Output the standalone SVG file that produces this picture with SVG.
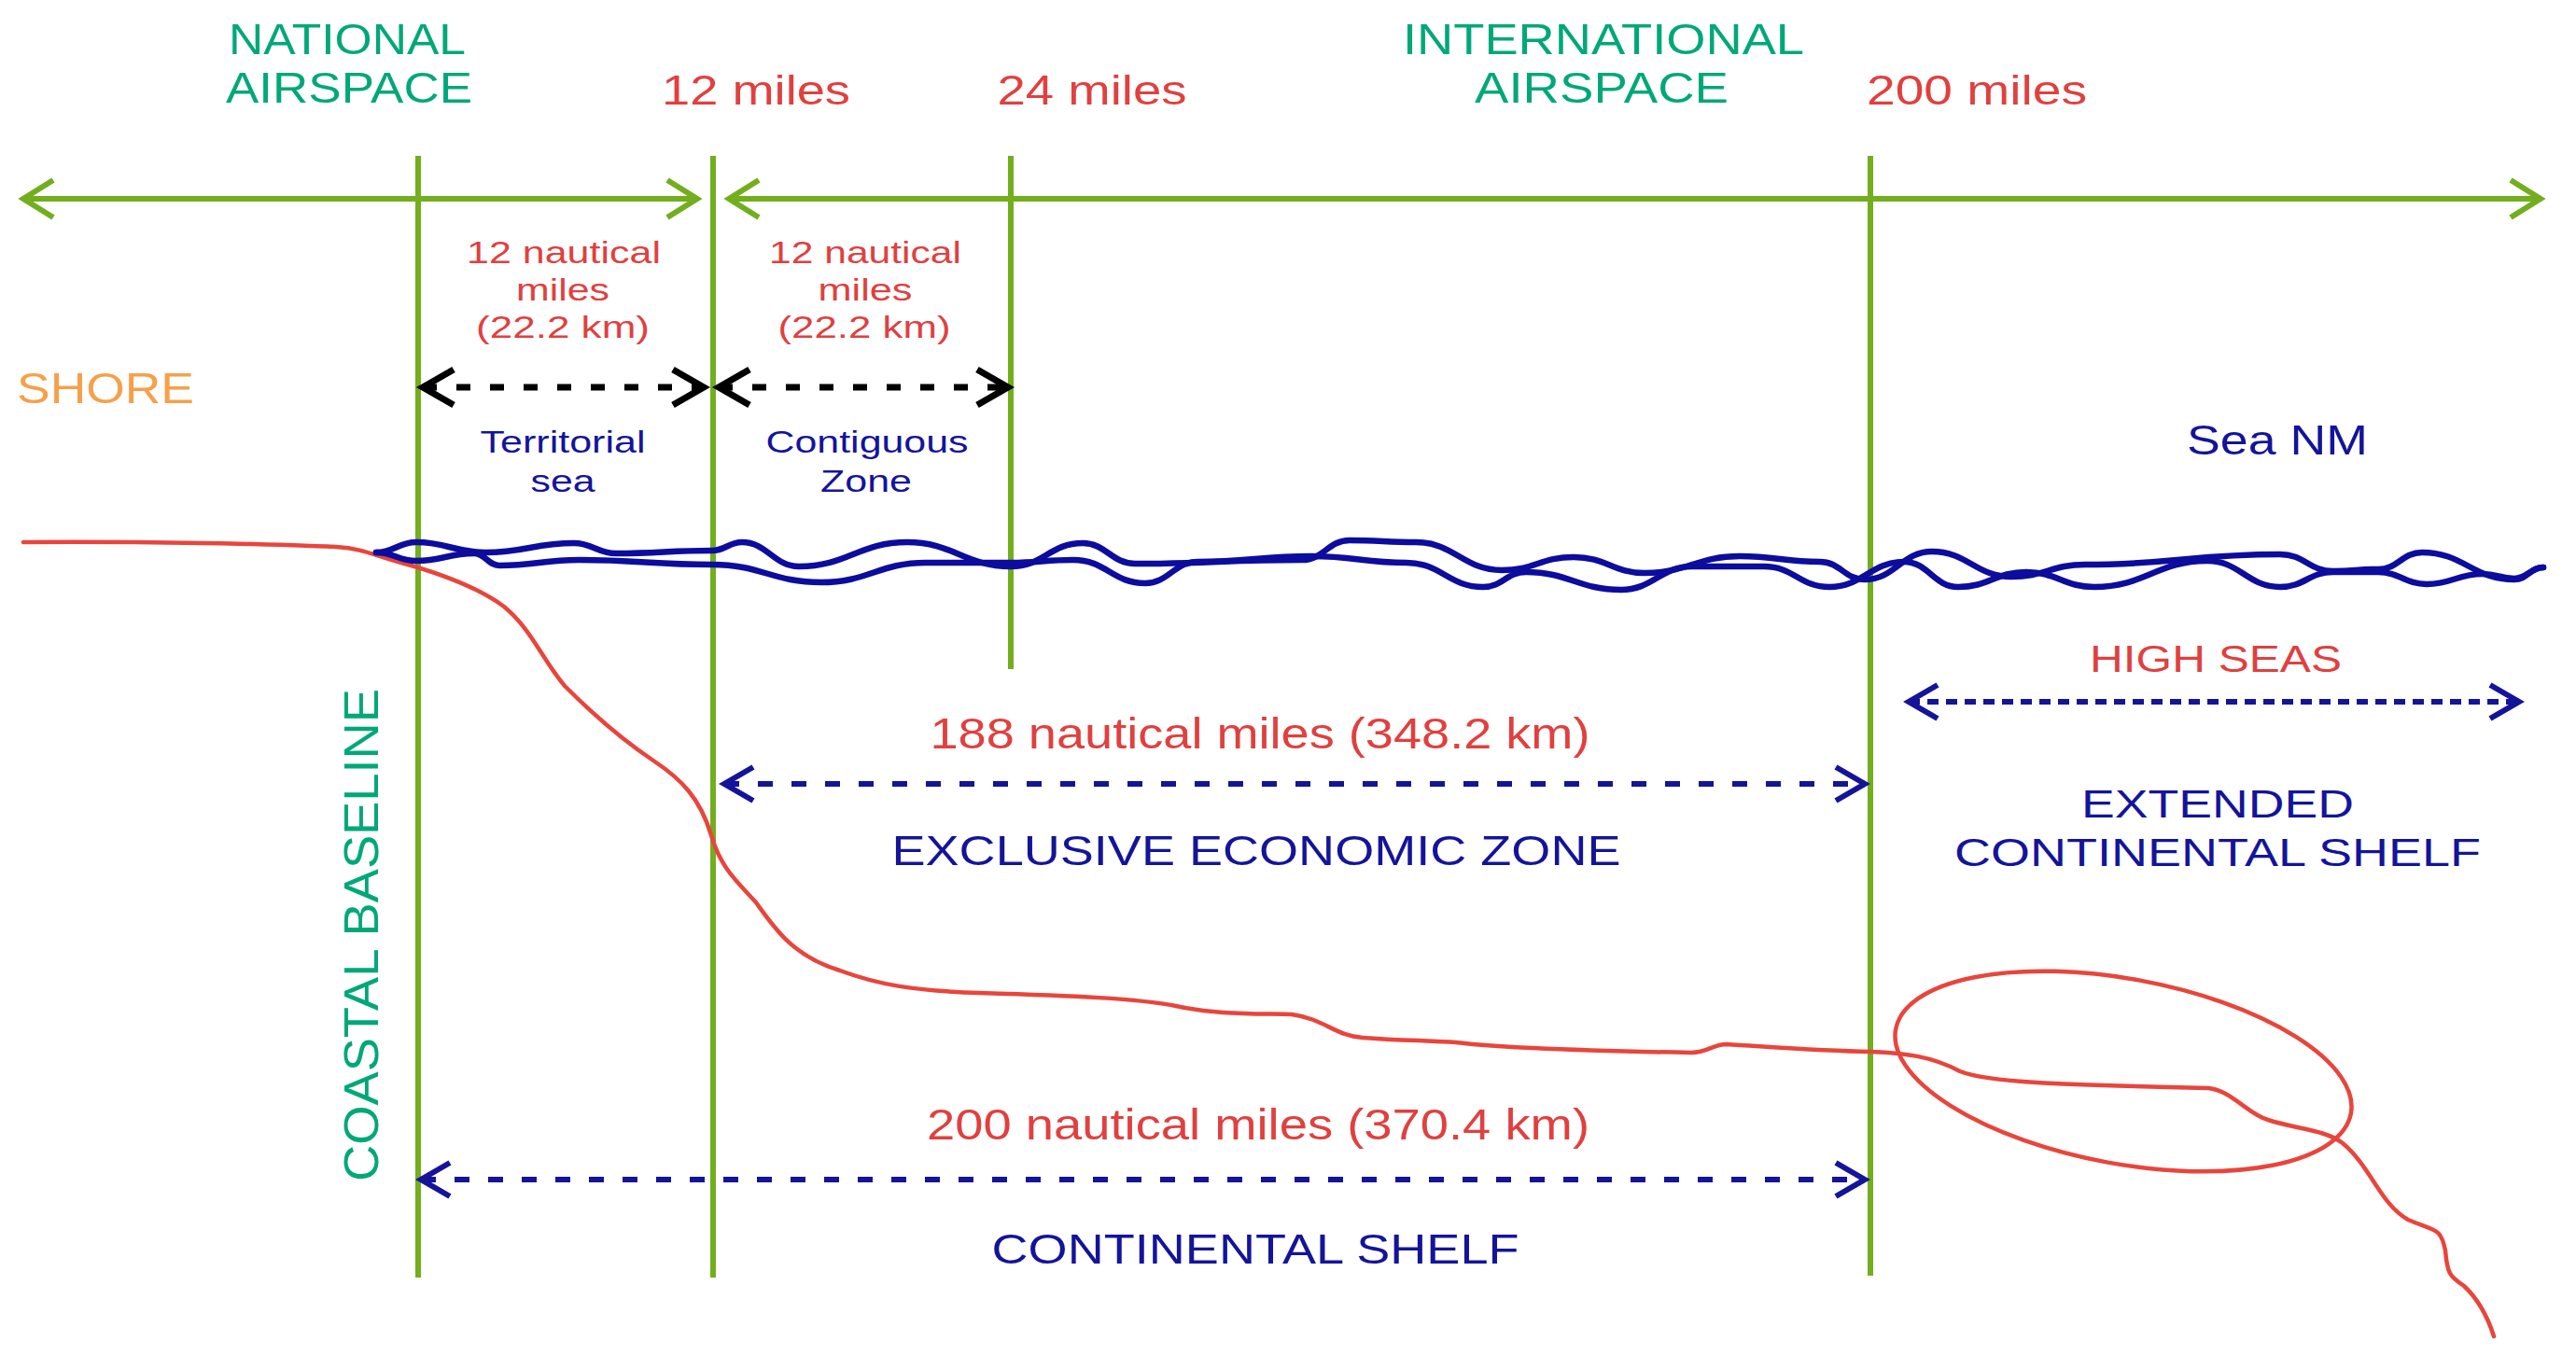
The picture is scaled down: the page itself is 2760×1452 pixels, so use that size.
<svg xmlns="http://www.w3.org/2000/svg" width="2760" height="1452" viewBox="0 0 2760 1452">
<style>
text{font-family:"Liberation Sans",Arial,sans-serif}
.g{fill:#00a878}
.r{fill:#e0403f}
.b{fill:#14149a}
.o{fill:#f6a04a}
.vl{stroke:#73ae1e;stroke-width:6;fill:none}
.ga{stroke:#73ae1e;stroke-width:6;fill:none}
.ka{stroke:#000;stroke-width:7;fill:none;stroke-dasharray:15 21}
.ba{stroke:#14149a;stroke-width:6;fill:none;stroke-dasharray:16 20}
.bs{stroke:#14149a;stroke-width:6;fill:none;stroke-dasharray:12 8}
.wave{stroke:#0c0c9e;stroke-width:6.5;fill:none;stroke-linecap:round;stroke-linejoin:round}
.red{stroke:#e8453c;stroke-width:4.5;fill:none;stroke-linecap:round;stroke-linejoin:round}
</style>
<defs>
<marker id="mG" markerUnits="userSpaceOnUse" viewBox="-40 -30 50 60" markerWidth="50" markerHeight="60" refX="0" refY="0" orient="auto-start-reverse" overflow="visible"><path d="M-32,-20 L0,0 L-32,20" fill="none" stroke="#73ae1e" stroke-width="6"/></marker>
<marker id="mK" markerUnits="userSpaceOnUse" viewBox="-40 -30 50 60" markerWidth="50" markerHeight="60" refX="0" refY="0" orient="auto-start-reverse" overflow="visible"><path d="M-33,-19 L0,0 L-33,19" fill="none" stroke="#000" stroke-width="7"/></marker>
<marker id="mB" markerUnits="userSpaceOnUse" viewBox="-40 -30 50 60" markerWidth="50" markerHeight="60" refX="0" refY="0" orient="auto-start-reverse" overflow="visible"><path d="M-31,-18 L0,0 L-31,18" fill="none" stroke="#14149a" stroke-width="6"/></marker>
</defs>
<rect width="2760" height="1452" fill="#fff"/>

<g id="boundaries">
<line class="vl" x1="448" y1="167" x2="448" y2="1369"/>
<line class="vl" x1="764" y1="167" x2="764" y2="1369"/>
<line class="vl" x1="1083" y1="167" x2="1083" y2="717"/>
<line class="vl" x1="2004" y1="167" x2="2004" y2="1367"/>
</g>

<g id="seabed">
<path class="red" d="M25,581 C150,580 300,583 360,586 C390,588 400,595 430,603 C470,614 510,628 540,650 C570,675 580,705 605,735 C640,770 670,795 700,815 C730,835 750,855 762,895 C772,930 790,945 810,967 C830,995 850,1025 900,1040 C940,1055 980,1062 1050,1064 C1150,1067 1220,1070 1260,1078 C1300,1087 1340,1086 1384,1087 C1420,1092 1430,1110 1460,1112 C1500,1115 1530,1115 1560,1117 C1600,1122 1700,1126 1812,1128 C1830,1128 1835,1119 1850,1119 C1900,1122 1950,1126 2004,1127 C2040,1128 2070,1132 2100,1148 C2130,1160 2200,1162 2366,1166 C2390,1168 2410,1195 2430,1200 C2460,1210 2490,1210 2510,1225 C2540,1250 2550,1290 2580,1307 C2610,1320 2615,1315 2620,1340 C2622,1365 2625,1368 2640,1378 C2655,1392 2665,1410 2672,1432"/>
<ellipse class="red" cx="2275" cy="1148" rx="248" ry="99" transform="rotate(10.5 2275 1148)"/>
</g>

<g id="sea-surface">
<path class="wave" d="M403,592 C422,592 427,581 446,581 C479,581 487,592 520,592 C563,592 572,582 615,582 C635,582 640,593 660,593 C706,593 717,590 763,590 C777,590 781,581 795,581 C822,581 829,607 856,607 C908,607 920,581 972,581 C1022,581 1033,607 1083,607 C1118,607 1125,582 1160,582 C1185,582 1191,604 1216,604 C1296,604 1315,600 1395,600 C1418,600 1423,579 1446,579 C1478,579 1485,581 1517,581 C1558,581 1568,611 1609,611 C1644,611 1651,597 1686,597 C1721,597 1728,614 1762,614 C1808,614 1818,596 1864,596 C1903,596 1911,602 1950,602 C1972,602 1976,621 1998,621 C2030,621 2038,591 2070,591 C2108,591 2117,618 2155,618 C2191,618 2198,605 2234,605 C2328,605 2349,594 2443,594 C2469,594 2474,612 2500,612 C2522,612 2526,610 2548,610 C2569,610 2574,592 2595,592 C2640,592 2649,621 2694,621 C2708,621 2711,608 2725,608"/>
<path class="wave" d="M403,592 C422,592 427,601 446,601 C474,601 480,593 508,593 C520,593 523,606 535,606 C573,606 582,600 620,600 C684,600 699,605 763,605 C816,605 827,624 880,624 C930,624 942,603 992,603 C1033,603 1042,603 1083,603 C1113,603 1120,600 1150,600 C1185,600 1192,625 1227,625 C1252,625 1258,602 1283,602 C1338,602 1350,596 1405,596 C1451,596 1461,603 1507,603 C1544,603 1552,629 1589,629 C1610,629 1614,613 1635,613 C1681,613 1691,632 1737,632 C1771,632 1779,607 1813,607 C1848,607 1855,607 1890,607 C1922,607 1928,629 1960,629 C1996,629 2004,602 2040,602 C2066,602 2072,629 2098,629 C2131,629 2138,613 2171,613 C2204,613 2211,629 2244,629 C2298,629 2311,601 2365,601 C2400,601 2408,629 2443,629 C2469,629 2474,613 2500,613 C2522,613 2526,613 2548,613 C2571,613 2577,626 2600,626 C2627,626 2633,615 2660,615 C2675,615 2679,620 2694,620 C2708,620 2711,608 2725,608"/>
</g>

<g id="connectors">
<line class="ga" x1="25" y1="213" x2="747" y2="213" marker-start="url(#mG)" marker-end="url(#mG)"/>
<line class="ga" x1="781" y1="213" x2="2722" y2="213" marker-start="url(#mG)" marker-end="url(#mG)"/>
<line class="ka" x1="453" y1="415" x2="754" y2="415" marker-start="url(#mK)" marker-end="url(#mK)"/>
<line class="ka" x1="770" y1="415" x2="1080" y2="415" marker-start="url(#mK)" marker-end="url(#mK)"/>
<line class="ba" x1="776" y1="840" x2="1998" y2="840" marker-start="url(#mB)" marker-end="url(#mB)"/>
<line class="ba" x1="451" y1="1264" x2="1998" y2="1264" marker-start="url(#mB)" marker-end="url(#mB)"/>
<line class="bs" x1="2045" y1="752" x2="2699" y2="752" marker-start="url(#mB)" marker-end="url(#mB)"/>
</g>

<g id="national-airspace">
<text class="g" x="372" y="58" font-size="46" text-anchor="middle" textLength="254" lengthAdjust="spacingAndGlyphs">NATIONAL</text>
<text class="g" x="374" y="110" font-size="46" text-anchor="middle" textLength="264" lengthAdjust="spacingAndGlyphs">AIRSPACE</text>
</g>
<g id="international-airspace">
<text class="g" x="1718" y="58" font-size="46" text-anchor="middle" textLength="430" lengthAdjust="spacingAndGlyphs">INTERNATIONAL</text>
<text class="g" x="1716" y="110" font-size="46" text-anchor="middle" textLength="272" lengthAdjust="spacingAndGlyphs">AIRSPACE</text>
</g>
<g id="mark-12">
<text class="r" x="810" y="112" font-size="45" text-anchor="middle" textLength="202" lengthAdjust="spacingAndGlyphs">12 miles</text>
</g>
<g id="mark-24">
<text class="r" x="1170" y="112" font-size="45" text-anchor="middle" textLength="203" lengthAdjust="spacingAndGlyphs">24 miles</text>
</g>
<g id="mark-200">
<text class="r" x="2118" y="112" font-size="45" text-anchor="middle" textLength="236" lengthAdjust="spacingAndGlyphs">200 miles</text>
</g>
<g id="shore">
<text class="o" x="18" y="432" font-size="47" textLength="190" lengthAdjust="spacingAndGlyphs">SHORE</text>
</g>
<g id="territorial-sea">
<text class="r" x="604" y="282" font-size="33" text-anchor="middle" textLength="208" lengthAdjust="spacingAndGlyphs">12 nautical</text>
<text class="r" x="603" y="322" font-size="33" text-anchor="middle" textLength="100" lengthAdjust="spacingAndGlyphs">miles</text>
<text class="r" x="603" y="362" font-size="33" text-anchor="middle" textLength="186" lengthAdjust="spacingAndGlyphs">(22.2 km)</text>
<text class="b" x="603" y="485" font-size="34" text-anchor="middle" textLength="177" lengthAdjust="spacingAndGlyphs">Territorial</text>
<text class="b" x="603" y="527" font-size="34" text-anchor="middle" textLength="69" lengthAdjust="spacingAndGlyphs">sea</text>
</g>
<g id="contiguous-zone">
<text class="r" x="927" y="282" font-size="33" text-anchor="middle" textLength="206" lengthAdjust="spacingAndGlyphs">12 nautical</text>
<text class="r" x="927" y="322" font-size="33" text-anchor="middle" textLength="101" lengthAdjust="spacingAndGlyphs">miles</text>
<text class="r" x="926" y="362" font-size="33" text-anchor="middle" textLength="185" lengthAdjust="spacingAndGlyphs">(22.2 km)</text>
<text class="b" x="929" y="485" font-size="34" text-anchor="middle" textLength="217" lengthAdjust="spacingAndGlyphs">Contiguous</text>
<text class="b" x="928" y="527" font-size="34" text-anchor="middle" textLength="98" lengthAdjust="spacingAndGlyphs">Zone</text>
</g>
<g id="sea-nm">
<text class="b" x="2440" y="487" font-size="45" text-anchor="middle" textLength="194" lengthAdjust="spacingAndGlyphs">Sea NM</text>
</g>
<g id="coastal-baseline">
<text class="g" transform="translate(405 1002) rotate(-90)" x="0" y="0" font-size="51" text-anchor="middle" textLength="528" lengthAdjust="spacingAndGlyphs">COASTAL BASELINE</text>
</g>
<g id="eez">
<text class="r" x="1350" y="802" font-size="47" text-anchor="middle" textLength="707" lengthAdjust="spacingAndGlyphs">188 nautical miles (348.2 km)</text>
<text class="b" x="1346" y="927" font-size="45" text-anchor="middle" textLength="781" lengthAdjust="spacingAndGlyphs">EXCLUSIVE ECONOMIC ZONE</text>
</g>
<g id="continental-shelf">
<text class="r" x="1348" y="1221" font-size="46" text-anchor="middle" textLength="710" lengthAdjust="spacingAndGlyphs">200 nautical miles (370.4 km)</text>
<text class="b" x="1345" y="1354" font-size="45" text-anchor="middle" textLength="565" lengthAdjust="spacingAndGlyphs">CONTINENTAL SHELF</text>
</g>
<g id="high-seas">
<text class="r" x="2374" y="720" font-size="41" text-anchor="middle" textLength="270" lengthAdjust="spacingAndGlyphs">HIGH SEAS</text>
</g>
<g id="extended-continental-shelf">
<text class="b" x="2376" y="876" font-size="42" text-anchor="middle" textLength="292" lengthAdjust="spacingAndGlyphs">EXTENDED</text>
<text class="b" x="2376" y="928" font-size="42" text-anchor="middle" textLength="564" lengthAdjust="spacingAndGlyphs">CONTINENTAL SHELF</text>
</g>
</svg>
